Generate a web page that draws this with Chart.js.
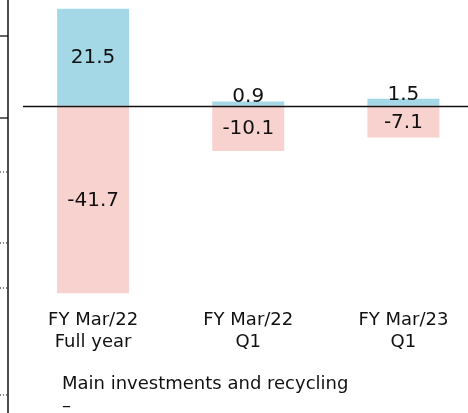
<!DOCTYPE html>
<html>
<head>
<meta charset="utf-8">
<script src="https://cdn.jsdelivr.net/npm/chart.js@4"></script>
<style>
  body { margin: 0; width: 468px; height: 413px; overflow: hidden; background: #fff; position: relative; }
  #wrap { position: absolute; left: 0; top: 0; width: 481px; height: 413px; }
  #note { position: absolute; left: 62px; top: 372px; font: 18px "DejaVu Sans"; line-height: 22px; color: #111; white-space: nowrap; }
</style>
</head>
<body>
<div id="wrap"><canvas id="chart" width="481" height="413"></canvas></div>
<div id="note">Main investments and recycling<br>–</div>
<script>
// categories and values
const categories = [['FY Mar/22', 'Full year'], ['FY Mar/22', 'Q1'], ['FY Mar/23', 'Q1']];
const investPositive = [21.5, 0.9, 1.5];
const investNegative = [-41.7, -10.1, -7.1];

const blue = '#a5d8e7';
const pink = '#f8d2ce';

// fragment of the neighbouring chart's axis on the left edge
const sideAxis = {
    id: 'sideAxis',
    afterDraw(chart) {
        const c = chart.ctx;
        c.save();
        c.strokeStyle = '#111';
        c.lineWidth = 1.5;
        c.beginPath();
        c.moveTo(8, 0);
        c.lineTo(8, chart.height);
        c.stroke();
        c.lineWidth = 1.3;
        [36, 118].forEach(y => { c.beginPath(); c.moveTo(0, y); c.lineTo(8, y); c.stroke(); });
        c.setLineDash([1, 2]);
        c.lineWidth = 1;
        [172, 243, 288, 395].forEach(y => { c.beginPath(); c.moveTo(0, y); c.lineTo(8, y); c.stroke(); });
        c.restore();
    }
};

// zero line on top of the bars
const zeroLine = {
    id: 'zeroLine',
    afterDatasetsDraw(chart) {
        const c = chart.ctx;
        const y = Math.round(chart.scales.y.getPixelForValue(0)) + 0.5;
        c.save();
        c.strokeStyle = '#111';
        c.lineWidth = 1.3;
        c.beginPath();
        c.moveTo(23, y);
        c.lineTo(chart.width, y);
        c.stroke();
        c.restore();
    }
};

// value labels inside the bars (small ones sit on top)
const valueLabels = {
    id: 'valueLabels',
    afterDraw(chart) {
        const c = chart.ctx;
        c.save();
        c.font = '20px "DejaVu Sans"';
        c.fillStyle = '#111';
        c.textAlign = 'center';
        chart.data.datasets.forEach((ds, i) => {
            chart.getDatasetMeta(i).data.forEach((bar, j) => {
                const v = ds.data[j];
                const h = Math.abs(bar.base - bar.y);
                if (h < 20 && v > 0) {
                    c.textBaseline = 'alphabetic';
                    c.fillText(v.toFixed(1), bar.x, bar.y + 1);
                } else {
                    c.textBaseline = 'middle';
                    c.fillText(v.toFixed(1), bar.x, (bar.y + bar.base) / 2 + 1);
                }
            });
        });
        c.restore();
    }
};

new Chart(document.getElementById('chart'), {
    type: 'bar',
    data: {
        labels: categories,
        datasets: [
            { label: 'Positive', data: investPositive, backgroundColor: blue },
            { label: 'Negative', data: investNegative, backgroundColor: pink }
        ]
    },
    options: {
        responsive: false,
        animation: false,
        devicePixelRatio: 1,
        layout: { padding: { left: 15.5, right: 0, top: 0, bottom: 56 } },
        datasets: { bar: { categoryPercentage: 1, barPercentage: 0.464 } },
        scales: {
            x: {
                stacked: true,
                grid: { display: false, drawTicks: false },
                border: { display: false },
                ticks: { color: '#111', padding: 4, font: { family: 'DejaVu Sans', size: 18 }, maxRotation: 0 }
            },
            y: {
                stacked: true,
                display: false,
                min: -44.5,
                max: 23.44
            }
        },
        plugins: {
            legend: { display: false },
            tooltip: { enabled: false }
        }
    },
    plugins: [sideAxis, zeroLine, valueLabels]
});
</script>
</body>
</html>
